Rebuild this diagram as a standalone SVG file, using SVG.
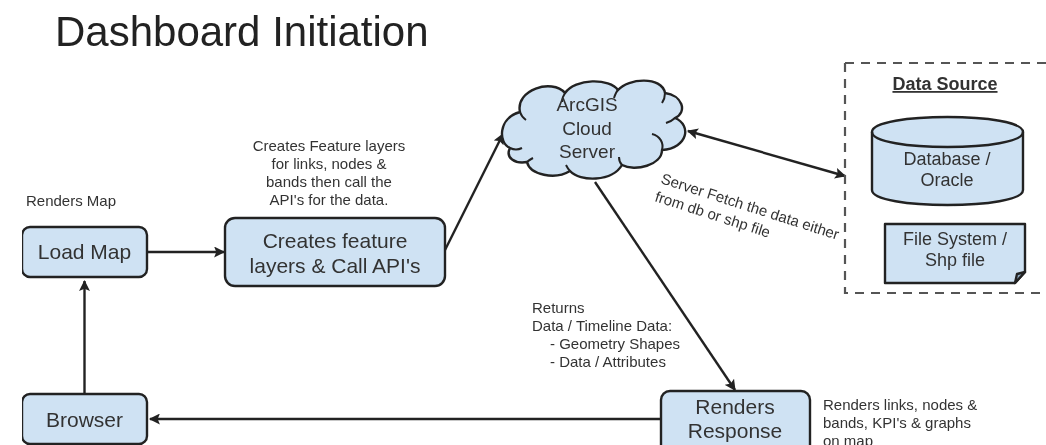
<svg xmlns="http://www.w3.org/2000/svg" width="1046" height="445" viewBox="0 0 1046 445">
<style>
text{font-family:"Liberation Sans",Arial,sans-serif;fill:#333}
.n{fill:#cfe2f3;stroke:#222;stroke-width:2.4;stroke-linejoin:round}
.l{font-size:21px;text-anchor:middle}
.m{font-size:18px;text-anchor:middle}
.s{font-size:15px}
.c{fill:none;stroke:#222;stroke-width:2.4}
.i{fill:none;stroke:#222;stroke-width:2}
</style>
<defs>
<marker id="a" viewBox="0 0 10 10" refX="9" refY="5" markerWidth="12" markerHeight="11" markerUnits="userSpaceOnUse" orient="auto-start-reverse"><path d="M0,0L10,5L0,10L2,5Z" fill="#222"/></marker>
<filter id="b" x="0" y="0" width="100%" height="100%"><feGaussianBlur stdDeviation="0.55"/></filter>
</defs>
<rect width="1046" height="445" fill="#fff"/>
<g filter="url(#b)">
<text x="55" y="46" font-size="42" style="fill:#222">Dashboard Initiation</text>
<g id="connectors">
<path class="c" d="M147,252H224" marker-end="url(#a)"/>
<path class="c" d="M84.500,394V281" marker-end="url(#a)"/>
<path class="c" d="M445,250L503,134" marker-end="url(#a)"/>
<path class="c" d="M595,182L735,390" marker-end="url(#a)"/>
<path class="c" d="M661,419H150" marker-end="url(#a)"/>
<path class="c" d="M688,131L845,176" marker-start="url(#a)" marker-end="url(#a)"/>
</g>
<g id="load-map"><rect class="n" x="22" y="227" width="125" height="50" rx="8"/><text class="l" x="84.500" y="259">Load Map</text></g>
<g id="creates-layers"><rect class="n" x="225" y="218" width="220" height="68" rx="10"/><text class="l" x="335" y="248">Creates feature</text><text class="l" x="335" y="272.500">layers &amp; Call API's</text></g>
<g id="browser"><rect class="n" x="22" y="394" width="125" height="50" rx="8"/><text class="l" x="84.500" y="427">Browser</text></g>
<g id="renders-response"><rect class="n" x="661" y="391" width="149" height="68" rx="9"/><text class="l" x="735" y="414">Renders</text><text class="l" x="735" y="438">Response</text></g>
<g id="cloud">
<path class="n" d="M510,148C498,143 498,118 520,112C515,90 552,78 565,93C575,78 610,78 618,90C628,78 662,76 665,93C682,95 688,112 675,118C692,125 688,148 662,150C662,165 635,172 622,165C612,182 580,182 570,171C555,180 530,175 527,162C515,164 505,158 510,148Z"/>
<path class="i" d="M510,148C514,150 518,150 522,148M520,112C521,115 523,118 526,120M565,93C563,96 562,99 562,102M618,90C616,92 615,95 614,98M665,93C665,97 664,100 662,103M675,118C672,121 669,122 666,123M652,134C660,136 664,143 662,150M622,165C620,163 619,160 619,157M570,171C568,169 567,167 566,165M527,162C529,160 531,159 533,158"/>
<text class="m" style="font-size:19px" x="587" y="111">ArcGIS</text><text class="m" style="font-size:19px" x="587" y="135">Cloud</text><text class="m" style="font-size:19px" x="587" y="158">Server</text>
</g>
<g id="data-source"><path d="M845,63H1046M845,63V293H1046" fill="none" stroke="#555" stroke-width="2.2" stroke-dasharray="9 7"/>
<text x="945" y="90" font-size="18" font-weight="bold" text-anchor="middle" text-decoration="underline">Data Source</text></g>
<g id="database"><path class="n" d="M872,132C872,112 1023,112 1023,132V190C1023,210 872,210 872,190Z"/><path class="n" style="fill:none" d="M872,132C872,152 1023,152 1023,132"/><text class="m" x="947" y="165">Database /</text><text class="m" x="947" y="186">Oracle</text></g>
<g id="file-system"><path class="n" d="M885,224H1025V272L1015,283H885Z"/><path class="n" d="M1025,272L1015,283L1017,274Z" style="fill:#8fa9bf"/><text class="m" x="955" y="245">File System /</text><text class="m" x="955" y="266">Shp file</text></g>
<g id="labels">
<text class="s" x="26" y="206">Renders Map</text>
<g text-anchor="middle"><text class="s" x="329" y="151">Creates Feature layers</text><text class="s" x="329" y="169">for links, nodes &amp;</text><text class="s" x="329" y="187">bands then call the</text><text class="s" x="329" y="205">API's for the data.</text></g>
<text class="s" x="532" y="313">Returns</text><text class="s" x="532" y="331">Data / Timeline Data:</text><text class="s" x="550" y="349">- Geometry Shapes</text><text class="s" x="550" y="367">- Data / Attributes</text>
<text class="s" x="823" y="410">Renders links, nodes &amp;</text><text class="s" x="823" y="428">bands, KPI's &amp; graphs</text><text class="s" x="823" y="446">on map</text>
<text class="s" transform="translate(660,183) rotate(17.800)">Server Fetch the data either</text>
<text class="s" transform="translate(654,201) rotate(17.800)">from db or shp file</text>
</g>
</g>
</svg>
